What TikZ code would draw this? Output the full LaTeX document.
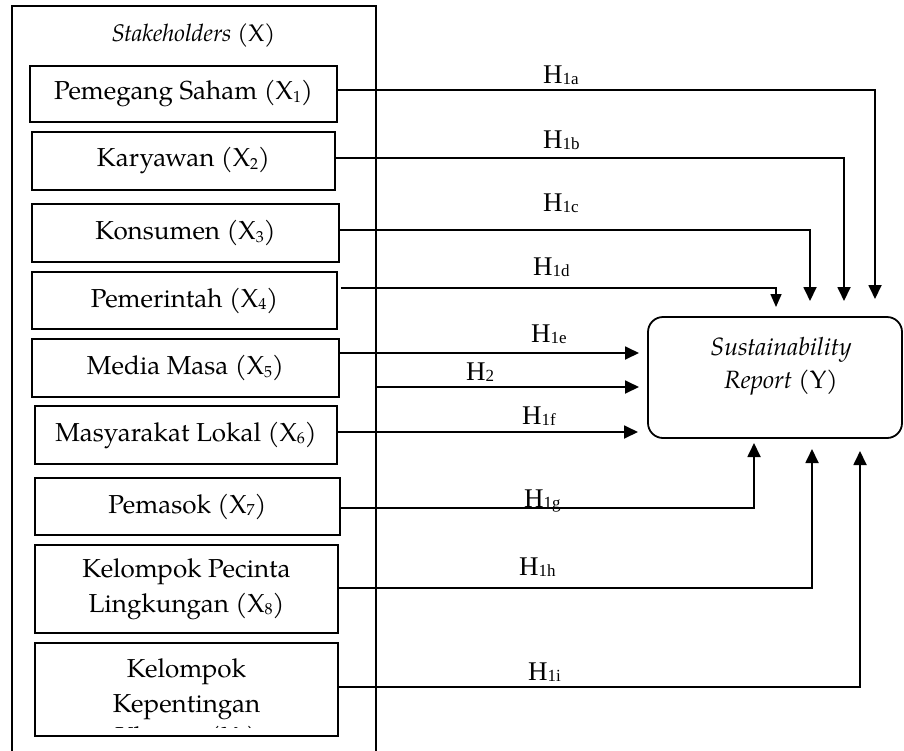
\documentclass[tikz,border=0pt]{standalone}
\usepackage{fontspec}
\setmainfont{TeX Gyre Pagella}
\newfontfamily\hfont{Liberation Serif}
\usetikzlibrary{arrows.meta}
\newcommand\xsub[1]{\raisebox{-2.5pt}{\fontsize{16}{16}\selectfont #1}}
\newcommand\hlab[1]{{\hfont H\raisebox{-1.5pt}{\fontsize{17}{17}\selectfont #1}}}
\tikzset{
  xbox/.style={draw, line width=1.8pt, inner sep=0pt, align=center,
    font=\fontsize{26}{36}\selectfont},
  btext/.style={inner sep=0pt, anchor=base, font=\fontsize{26}{36}\selectfont},
  hl/.style={inner sep=0pt, anchor=base west, font=\fontsize{27}{30}\selectfont},
  conn/.style={line width=1.8pt},
  arr/.style={line width=1.8pt, -{Triangle[length=14pt,width=13pt]}},
  sarr/.style={line width=1.6pt, -{Triangle[length=13pt,width=11pt]}},
}
\begin{document}
\begin{tikzpicture}[x=1pt,y=-1pt]
\useasboundingbox (0,0) rectangle (904,750);
% outer container (cut off at the bottom)
\draw[line width=1.6pt] (12,760) -- (12,6) -- (376,6) -- (376,760);
\node[btext, font=\fontsize{24}{28}\selectfont] (title) at (193.5,41) {\textit{Stakeholders} (X)};
% stakeholder boxes
\node[xbox, minimum width=307pt, minimum height=56pt] (b1) at (183.5,94) {Pemegang Saham (X\xsub{1})};
\node[xbox, minimum width=303pt, minimum height=58pt] (b2) at (183.5,161) {Karyawan (X\xsub{2})};
\node[xbox, minimum width=307pt, minimum height=58pt] (b3) at (185.5,233) {Konsumen (X\xsub{3})};
\node[xbox, minimum width=305pt, minimum height=57pt] (b4) at (184.5,300.5) {Pemerintah (X\xsub{4})};
\node[xbox, minimum width=307pt, minimum height=58pt] (b5) at (185.5,368) {Media Masa (X\xsub{5})};
\node[xbox, minimum width=302pt, minimum height=58pt] (b6) at (186,435) {Masyarakat Lokal (X\xsub{6})};
\node[xbox, minimum width=305pt, minimum height=57pt] (b7) at (187.5,506.5) {Pemasok (X\xsub{7})};
\node[xbox, minimum width=303pt, minimum height=88pt] (b8) at (186.5,589) {Kelompok Pecinta\\[-1pt]Lingkungan (X\xsub{8})};
\node[xbox, minimum width=303pt, minimum height=93pt] (b9) at (186.5,689.5) {};
\begin{scope}
  \clip (35,643) rectangle (338,727);
  \node[btext] (k1) at (186.5,677) {Kelompok};
  \node[btext] (k2) at (186.5,712) {Kepentingan};
  \node[btext] (k3) at (186.5,745) {Khusus (X\xsub{9})};
\end{scope}
% dependent variable
\node[draw, line width=1.8pt, rounded corners=15pt, minimum width=254pt, minimum height=121pt] (sr) at (775,377.5) {};
\node[btext, font=\fontsize{25}{30}\selectfont] (sr1) at (781,355) {\textit{Sustainability}};
\node[btext, font=\fontsize{25}{30}\selectfont] (sr2) at (781,388) {\textit{Report} (Y)};
% arrow end points
\coordinate (ta) at (875,299);
\coordinate (tb) at (844,301);
\coordinate (tc) at (810,301);
\coordinate (td) at (776,307);
\coordinate (te) at (639,353);
\coordinate (t2) at (639,387);
\coordinate (tf) at (638,432);
\coordinate (tg) at (754,443);
\coordinate (th) at (812,449);
\coordinate (ti) at (860,451);
\coordinate (xr) at (376,387);
% connectors
\draw[arr] ([yshift=4pt]b1.east) -| (ta);
\draw[arr] ([yshift=3pt]b2.east) -| (tb);
\draw[arr] ([yshift=3pt]b3.east) -| (tc);
\draw[sarr] ([yshift=12.5pt,xshift=3pt]b4.east) -| (td);
\draw[arr] ([yshift=15pt]b5.east) -- (te);
\draw[arr] (xr) -- (t2);
\draw[arr] ([yshift=3pt]b6.east) -- (tf);
\draw[arr] ([yshift=-1.5pt]b7.east) -| (tg);
\draw[arr] ([yshift=1pt]b8.east) -| (th);
\draw[arr] ([yshift=2.5pt]b9.east) -| (ti);
% labels
\node[hl] (la) at (543,83) {\hlab{1a}};
\node[hl] (lb) at (543,148) {\hlab{1b}};
\node[hl] (lc) at (543,211) {\hlab{1c}};
\node[hl] (ld) at (533,275) {\hlab{1d}};
\node[hl] (le) at (531,342) {\hlab{1e}};
\node[hl] (l2) at (466,380) {\hlab{2}};
\node[hl] (lf) at (522,424) {\hlab{1f}};
\node[hl] (lg) at (524,507) {\hlab{1g}};
\node[hl] (lh) at (519,575) {\hlab{1h}};
\node[hl] (li) at (528,680) {\hlab{1i}};
\end{tikzpicture}
\end{document}
